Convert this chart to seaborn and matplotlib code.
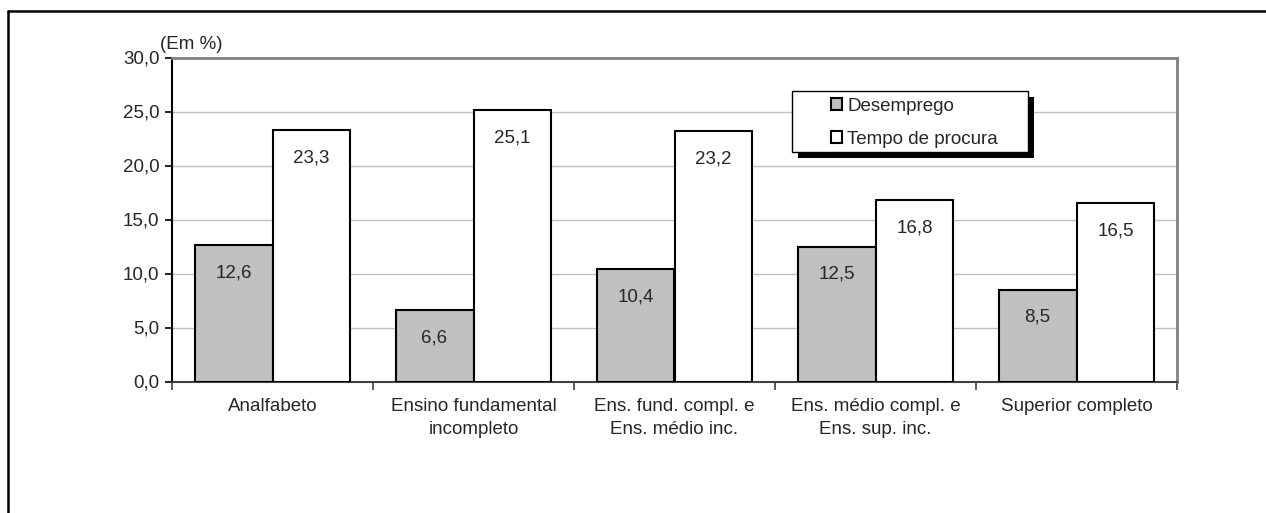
import seaborn as sns
import matplotlib.pyplot as plt
import matplotlib.patches as mpatches
import matplotlib.lines as mlines
import pandas as pd

# Data
categorias = ['Analfabeto', 'Ensino fundamental\nincompleto', 'Ens. fund. compl. e\nEns. médio inc.',
              'Ens. médio compl. e\nEns. sup. inc.', 'Superior completo']
desemprego = [12.6, 6.6, 10.4, 12.5, 8.5]
tempo_procura = [23.3, 25.1, 23.2, 16.8, 16.5]
series = ['Desemprego', 'Tempo de procura']
y_ticks = [0, 5, 10, 15, 20, 25, 30]

df = pd.DataFrame({
    'categoria': categorias * 2,
    'valor': desemprego + tempo_procura,
    'serie': [series[0]] * len(categorias) + [series[1]] * len(categorias),
})

sns.set_style('white')
plt.rcParams['font.family'] = ['Liberation Sans', 'DejaVu Sans']
plt.rcParams['font.size'] = 13.5

fig = plt.figure(figsize=(12.66, 5.13), dpi=100)
ax = fig.add_axes([172 / 1266, 1 - 381.5 / 513, 1005 / 1266, 324 / 513])

sns.barplot(data=df, x='categoria', y='valor', hue='serie', order=categorias, hue_order=series,
            palette=['#c0c0c0', 'white'], saturation=1, edgecolor='black', linewidth=1.5,
            width=0.776, ax=ax, zorder=3)

# value labels inside bars
for cont in ax.containers:
    for bar in cont:
        h = bar.get_height()
        ax.annotate(f'{h:.1f}'.replace('.', ','), (bar.get_x() + bar.get_width() / 2, h),
                    xytext=(0, -20), textcoords='offset points', ha='center', va='center',
                    fontsize=13.5, zorder=4)

# y axis
ax.set_ylim(0, 30)
ax.set_yticks(y_ticks)
ax.set_yticklabels([f'{v:.1f}'.replace('.', ',') for v in y_ticks])
ax.yaxis.grid(True, color='#c0c0c0', linewidth=1)
ax.set_axisbelow(True)
ax.tick_params(axis='y', direction='out', length=5, width=1.2, color='black', pad=4, left=True)

# x axis: labels at centres, ticks at boundaries
ax.set_xlim(-0.5, len(categorias) - 0.5)
ax.set_xticks(range(len(categorias)))
ax.set_xticklabels(categorias, linespacing=1.45)
ax.set_xticks([i - 0.5 for i in range(len(categorias) + 1)], minor=True)
ax.tick_params(axis='x', which='major', length=0, pad=12)
ax.tick_params(axis='x', which='minor', direction='out', length=6, width=1.2, color='#404040', bottom=True)
ax.set_xlabel('')
ax.set_ylabel('')

for s in ['top', 'right']:
    ax.spines[s].set_color('#808080')
    ax.spines[s].set_linewidth(2)
ax.spines['left'].set_color('black')
ax.spines['left'].set_linewidth(1.5)
ax.spines['bottom'].set_color('#404040')
ax.spines['bottom'].set_linewidth(1.5)

ax.text(-0.012, 1.015, '(Em %)', transform=ax.transAxes, ha='left', va='bottom', fontsize=13.5)

# legend with manual frame and shadow
handles, labels = ax.get_legend_handles_labels()
ax.legend(handles, labels, loc='upper left', bbox_to_anchor=(0.656, 0.876), frameon=False,
          borderpad=0, borderaxespad=0, handlelength=0.55, handleheight=0.55,
          handletextpad=0.3, labelspacing=0.85, fontsize=13.5)
x0, x1 = 0.6169, 0.8517
y0, y1 = 0.7083, 0.8966
ax.add_patch(mpatches.Rectangle((x0 + 0.006, y0 - 0.0185), x1 - x0, y1 - y0, transform=ax.transAxes,
                                facecolor='black', edgecolor='none', zorder=5, clip_on=False))
ax.add_patch(mpatches.Rectangle((x0, y0), x1 - x0, y1 - y0, transform=ax.transAxes,
                                facecolor='white', edgecolor='black', linewidth=1, zorder=5.5,
                                clip_on=False))
ax.get_legend().set_zorder(6)

# outer frame (top and left only, as cut)
fx, fy = 8 / 1266, 1 - 11 / 513
fig.add_artist(mlines.Line2D([fx, 1], [fy, fy], color='black', linewidth=1.8))
fig.add_artist(mlines.Line2D([fx, fx], [0, fy], color='black', linewidth=1.8))

plt.savefig('out.png', dpi=100)
